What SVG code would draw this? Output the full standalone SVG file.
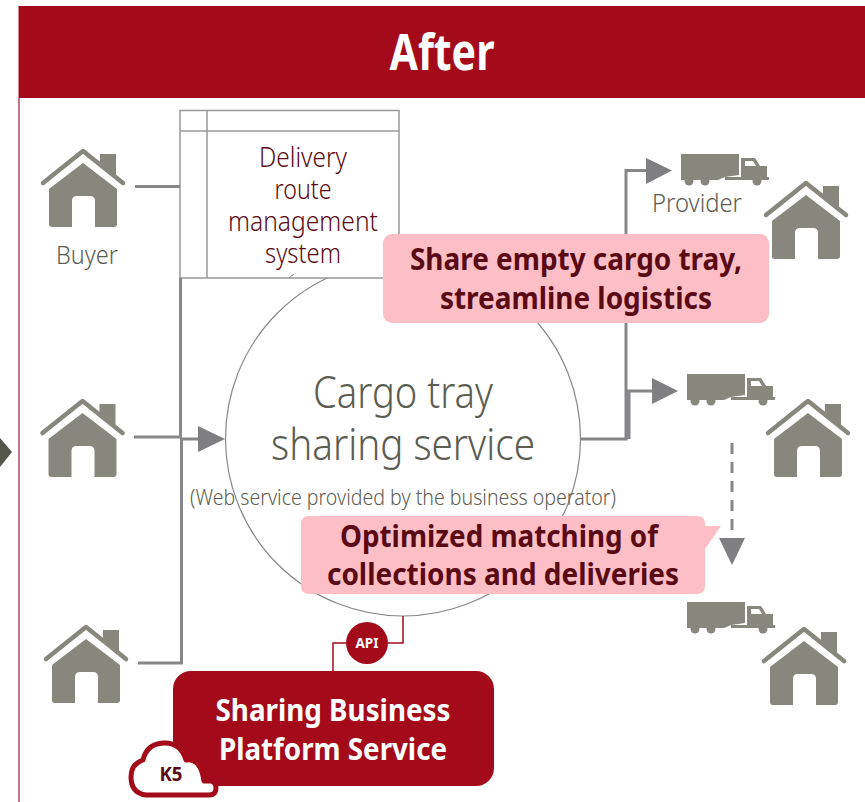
<svg xmlns="http://www.w3.org/2000/svg" width="865" height="802" viewBox="0 0 865 802">
<style>
text{font-family:"Noto Sans","Liberation Sans",sans-serif;text-anchor:middle}
.dk{fill:#5a0a14}
.gy{fill:#5b5c52;font-weight:300}
.lt{font-weight:300}
.bd{font-weight:700}
.wh{fill:#fff}
.ln{fill:none;stroke:#87878a;stroke-width:3}
.ar{fill:#7f7f82}
.hs{fill:#87877e}
</style>
<defs>
<g id="house">
<path d="M-40,35 L0,3 L40,35" fill="none" stroke="#87877e" stroke-width="4.5" stroke-linecap="round" stroke-linejoin="round"/>
<path class="hs" d="M17,6H33V30L17,18Z"/>
<path class="hs" d="M0,15L34,41V76Q34,79 31,79H12V53Q12,48 7,48H-6Q-11,48 -11,53V79H-31Q-34,79 -34,76V41Z"/>
</g>
<g id="truck">
<path class="hs" d="M0,0H58V21L44,23L37,26H0Z"/>
<circle class="hs" cx="8" cy="27" r="4.5"/>
<circle class="hs" cx="24" cy="27" r="4.5"/>
<path class="hs" d="M60,4H74L79,12H86V23H88V26H44V23H60Z"/>
<path fill="#fff" d="M64,7H72L75,12H64Z"/>
<circle class="hs" cx="76" cy="27" r="4.5"/>
</g>
</defs>
<rect width="865" height="802" fill="#fff"/>
<g id="frame">
<path d="M19,98V802" fill="none" stroke="#b8405a" stroke-width="1.5"/>
<rect x="18.500" y="6" width="846.500" height="92" fill="#a30b1a"/>
<text class="wh bd" x="442" y="70" font-size="50" textLength="105" lengthAdjust="spacingAndGlyphs">After</text>
<path d="M0,438L12,452L0,467Z" fill="#55564a"/>
</g>
<g id="service">
<circle cx="403" cy="438.500" r="177.500" fill="#fff" stroke="#87878a" stroke-width="1.200"/>
<text class="gy" x="403" y="408" font-size="44" textLength="180" lengthAdjust="spacingAndGlyphs">Cargo tray</text>
<text class="gy" x="403" y="460" font-size="44" textLength="264" lengthAdjust="spacingAndGlyphs">sharing service</text>
<text class="gy" x="403" y="505" font-size="21" textLength="426" lengthAdjust="spacingAndGlyphs">(Web service provided by the business operator)</text>
</g>
<g id="route-system">
<rect x="180" y="110.500" width="219" height="167.500" fill="#fff" stroke="#999" stroke-width="1.500"/>
<path d="M207,110.500V278M180,131H399" fill="none" stroke="#999" stroke-width="1.500"/>
<path d="M289,278L294,274" fill="none" stroke="#87878a" stroke-width="1"/>
<text class="dk lt" x="303" y="167" font-size="27" textLength="88" lengthAdjust="spacingAndGlyphs">Delivery</text>
<text class="dk lt" x="303" y="199" font-size="27" textLength="57" lengthAdjust="spacingAndGlyphs">route</text>
<text class="dk lt" x="303" y="231" font-size="27" textLength="150" lengthAdjust="spacingAndGlyphs">management</text>
<text class="dk lt" x="303" y="263" font-size="27" textLength="76" lengthAdjust="spacingAndGlyphs">system</text>
</g>
<g id="connectors">
<path class="ln" d="M135,186.500H180M180.500,278V438M134,437H180M181.500,438V663H138M180,439H200"/>
<path class="ar" d="M198,426L225,439L198,452Z"/>
<path class="ln" d="M581,439H626V170.500H648M629,439V391H654"/>
<path class="ar" d="M646,158L672,170.500L646,184Z"/>
<path class="ar" d="M652,378L678,391L652,404Z"/>
<path class="ln" d="M732,443V540" stroke-dasharray="11 8"/>
<path class="ar" d="M719,538H745L732,565Z"/>
<path d="M403,616V643H388M346,643H333V671" fill="none" stroke="#a30b1a" stroke-width="1.500"/>
</g>
<use href="#house" x="83" y="148" id="buyer-1"/>
<text class="gy" x="87" y="264" font-size="25" textLength="62" lengthAdjust="spacingAndGlyphs">Buyer</text>
<use href="#house" x="82.500" y="398" id="buyer-2"/>
<use href="#house" x="86" y="624" id="buyer-3"/>
<use href="#house" x="806" y="180" id="provider-house-1"/>
<use href="#house" x="808" y="398" id="provider-house-2"/>
<use href="#house" x="804" y="626" id="provider-house-3"/>
<use href="#truck" x="681" y="154" id="truck-1"/>
<use href="#truck" x="687" y="374" id="truck-2"/>
<use href="#truck" x="687" y="602" id="truck-3"/>
<text class="gy" x="697" y="212" font-size="25" textLength="90" lengthAdjust="spacingAndGlyphs">Provider</text>
<g id="callout-share">
<rect x="383" y="234" width="386" height="89" rx="9" fill="#fdbfc5"/>
<text class="dk bd" x="576" y="270" font-size="31" textLength="332" lengthAdjust="spacingAndGlyphs">Share empty cargo tray,</text>
<text class="dk bd" x="576" y="309" font-size="31" textLength="272" lengthAdjust="spacingAndGlyphs">streamline logistics</text>
</g>
<g id="callout-match">
<path d="M309,516H697Q705,516 705,524V526H721L705,549V586Q705,594 697,594H309Q301,594 301,586V524Q301,516 309,516Z" fill="#fdbfc5"/>
<text class="dk bd" x="499" y="547" font-size="31" textLength="318" lengthAdjust="spacingAndGlyphs">Optimized matching of</text>
<text class="dk bd" x="503" y="585" font-size="31" textLength="352" lengthAdjust="spacingAndGlyphs">collections and deliveries</text>
</g>
<g id="api">
<circle cx="367" cy="643" r="21" fill="#a30b1a"/>
<text class="wh bd" x="367" y="648" font-size="14" textLength="23" lengthAdjust="spacingAndGlyphs">API</text>
</g>
<g id="platform">
<rect x="173" y="671" width="321" height="115" rx="18" fill="#a30b1a"/>
<text class="wh bd" x="333" y="721" font-size="31" textLength="235" lengthAdjust="spacingAndGlyphs">Sharing Business</text>
<text class="wh bd" x="333" y="760" font-size="31" textLength="228" lengthAdjust="spacingAndGlyphs">Platform Service</text>
</g>
<g id="k5">
<path d="M146,795Q131,793 131,777Q131,764 143,760Q147,743 165,743Q181,743 186,760Q201,758 204,781H211Q216,782 216,788Q216,795 209,795Z" fill="#fff" stroke="#a30b1a" stroke-width="5" stroke-linejoin="round"/>
<text class="dk bd" x="171" y="781" font-size="19" textLength="23" lengthAdjust="spacingAndGlyphs">K5</text>
</g>
</svg>
